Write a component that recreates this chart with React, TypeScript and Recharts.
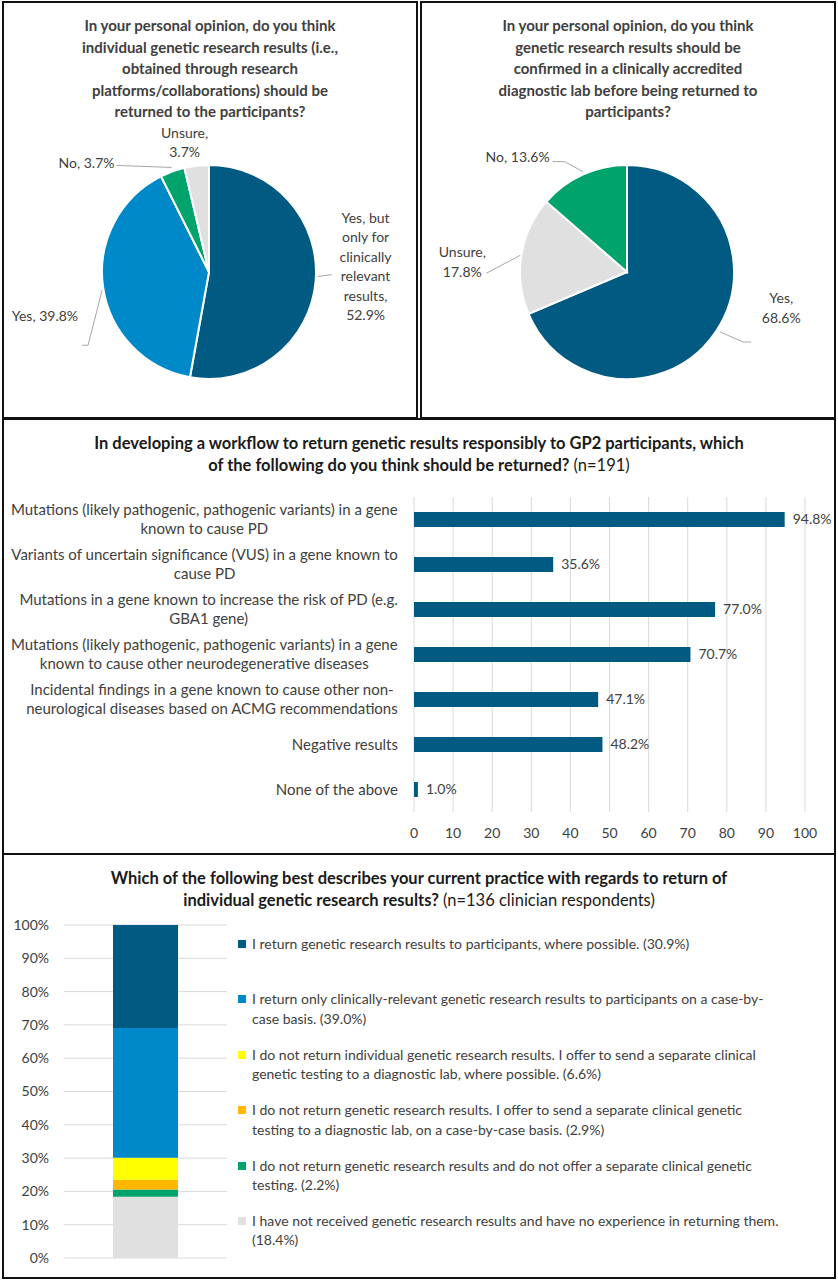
import React from "react";
import {
  PieChart,
  Pie,
  Cell,
  BarChart,
  Bar,
  XAxis,
  YAxis,
  CartesianGrid,
  LabelList,
} from "recharts";

const FONT = "Lato, 'Open Sans', sans-serif";
const TEXT = "#404040";
const DARK = "#005A82";
const BLUE = "#0089C8";
const GREEN = "#00A36C";
const GRAY = "#E0E0E0";
const YELLOW = "#FFFF00";
const ORANGE = "#FFB700";
const GRID = "#D9D9D9";

// --- panel 1: return individual results? ---
const opinionNames = ["Yes, but\nonly for\nclinically\nrelevant\nresults,", "Yes,", "No,", "Unsure,"];
const opinionValues = [52.9, 39.8, 3.7, 3.7];
const opinionValueBreak = [true, false, false, true];
const opinionColors = [DARK, BLUE, GREEN, GRAY];

// --- panel 2: confirm in accredited lab? ---
const confirmNames = ["Yes,", "Unsure,", "No,"];
const confirmValues = [68.6, 17.8, 13.6];
const confirmValueBreak = [true, true, false];
const confirmColors = [DARK, GRAY, GREEN];

// --- panel 3: what should be returned (n=191) ---
const returnCategories = [
  "Mutations (likely pathogenic, pathogenic variants) in a gene\nknown to cause PD",
  "Variants of uncertain significance (VUS) in a gene known to\ncause PD",
  "Mutations in a gene known to increase the risk of PD (e.g.\nGBA1 gene)",
  "Mutations (likely pathogenic, pathogenic variants) in a gene\nknown to cause other neurodegenerative diseases",
  "Incidental findings in a gene known to cause other non-\nneurological diseases based on ACMG recommendations",
  "Negative results",
  "None of the above",
];
const returnValues = [94.8, 35.6, 77.0, 70.7, 47.1, 48.2, 1.0];
const returnTicks = [0, 10, 20, 30, 40, 50, 60, 70, 80, 90, 100];

// --- panel 4: current practice (n=136), listed bottom of stack first ---
const practiceLabels = [
  "I have not received genetic research results and have no experience in returning them.\n",
  "I do not return genetic research results and do not offer a separate clinical genetic\ntesting.",
  "I do not return genetic research results. I offer to send a separate clinical genetic\ntesting to a diagnostic lab, on a case-by-case basis.",
  "I do not return individual genetic research results. I offer to send a separate clinical\ngenetic testing to a diagnostic lab, where possible.",
  "I return only clinically-relevant genetic research results to participants on a case-by-\ncase basis.",
  "I return genetic research results to participants, where possible.",
];
const practiceValues = [18.4, 2.2, 2.9, 6.6, 39.0, 30.9];
const practiceColors = [GRAY, GREEN, ORANGE, YELLOW, BLUE, DARK];
const practiceTicks = [0, 10, 20, 30, 40, 50, 60, 70, 80, 90, 100];

// label placement relative to the slice's outer edge point
type LabelLayout = { leader: [number, number][]; dx: number; dy: number; anchor: "start" | "middle" | "end" };

const opinionLayout: LabelLayout[] = [
  { leader: [[2, -5], [16, -7]], dx: 50, dy: -64, anchor: "middle" },
  { leader: [[-1, 3], [-15, 58], [-21, 58]], dx: -25, dy: 29, anchor: "end" },
  { leader: [[-1, -4], [-56, -6]], dx: -58, dy: -8, anchor: "end" },
  { leader: [], dx: -12, dy: -33, anchor: "middle" },
];

const confirmLayout: LabelLayout[] = [
  { leader: [[4, 1], [27, 11], [35, 11]], dx: 65, dy: -33, anchor: "middle" },
  { leader: [[-1, 0], [-35, 18]], dx: -59, dy: -3, anchor: "middle" },
  { leader: [[0, -3], [-18, -13], [-30, -13]], dx: -33, dy: -18, anchor: "end" },
];

const RADIAN = Math.PI / 180;
const pct = (v: number) => `${v.toFixed(1)}%`;

function sliceLines(name: string, value: number, breakLine: boolean): string[] {
  const lines = name.split("\n");
  if (breakLine) return [...lines, pct(value)];
  lines[lines.length - 1] = `${lines[lines.length - 1]} ${pct(value)}`;
  return lines;
}

function makePieLabel(layouts: LabelLayout[], names: string[], values: number[], breaks: boolean[]) {
  return (props: any) => {
    const { cx, cy, midAngle, outerRadius, index } = props;
    const a = -midAngle * RADIAN;
    const ex = cx + outerRadius * Math.cos(a);
    const ey = cy + outerRadius * Math.sin(a);
    const lay = layouts[index];
    const lines = sliceLines(names[index], values[index], breaks[index]);
    return (
      <g key={`lbl-${index}`}>
        {lay.leader.length > 1 && (
          <polyline
            points={lay.leader.map(([x, y]) => `${ex + x},${ey + y}`).join(" ")}
            fill="none"
            stroke="#A6A6A6"
            strokeWidth={1}
          />
        )}
        <text textAnchor={lay.anchor} fontFamily={FONT} fontSize={14} fill={TEXT}>
          {lines.map((l, i) => (
            <tspan key={i} x={ex + lay.dx} y={ey + lay.dy + i * 19.5 + 5}>
              {l}
            </tspan>
          ))}
        </text>
      </g>
    );
  };
}

let measureCtx: CanvasRenderingContext2D | null = null;
function textWidth(s: string, font: string): number {
  if (!measureCtx) measureCtx = document.createElement("canvas").getContext("2d");
  if (!measureCtx) return s.length * 6.8;
  measureCtx.font = font;
  return measureCtx.measureText(s).width;
}

const panelBase: React.CSSProperties = {
  position: "absolute",
  border: "2px solid #111",
  boxSizing: "border-box",
  background: "#fff",
  overflow: "hidden",
};

const titleStyle: React.CSSProperties = {
  position: "absolute",
  left: 0,
  right: 0,
  textAlign: "center",
  fontFamily: FONT,
  fontWeight: 700,
  fontSize: 15,
  lineHeight: "21.5px",
  whiteSpace: "nowrap",
};

function PiePanel({
  left,
  title,
  names,
  values,
  colors,
  breaks,
  layout,
}: {
  left: number;
  title: string[];
  names: string[];
  values: number[];
  colors: string[];
  breaks: boolean[];
  layout: LabelLayout[];
}) {
  const data = names.map((n, i) => ({ name: n, value: values[i] }));
  return (
    <div style={{ ...panelBase, left, top: 1, width: 416, height: 418 }}>
      <div style={{ ...titleStyle, top: 12, color: TEXT }}>
        {title.map((t, i) => (
          <div key={i}>{t}</div>
        ))}
      </div>
      <div style={{ position: "absolute", left: 0, top: 0 }}>
        <PieChart width={412} height={412} margin={{ top: 0, right: 0, bottom: 0, left: 0 }}>
          <Pie
            data={data}
            dataKey="value"
            cx={205}
            cy={269}
            outerRadius={107}
            startAngle={90}
            endAngle={-270}
            stroke="#fff"
            strokeWidth={2}
            isAnimationActive={false}
            labelLine={false}
            label={makePieLabel(layout, names, values, breaks)}
          >
            {data.map((_, i) => (
              <Cell key={i} fill={colors[i]} />
            ))}
          </Pie>
        </PieChart>
      </div>
    </div>
  );
}

const CAT_FONT = `15px ${FONT}`;

function CategoryTick(props: any) {
  const { y, payload } = props;
  const lines: string[] = String(payload.value).split("\n");
  const right = 394;
  const blockW = Math.max(...lines.map((l) => textWidth(l, CAT_FONT)));
  const cx = right - blockW / 2;
  const top = y - ((lines.length - 1) * 19) / 2;
  return (
    <text textAnchor="middle" fontFamily={FONT} fontSize={15} fill={TEXT}>
      {lines.map((l, i) => (
        <tspan key={i} x={cx} y={top + i * 19 + 5}>
          {l}
        </tspan>
      ))}
    </text>
  );
}

const bigTitle: React.CSSProperties = { ...titleStyle, top: 12, fontSize: 16.5, lineHeight: "22px", color: "#1a1a1a" };

function ReturnPanel() {
  const data = returnCategories.map((c, i) => ({ category: c, value: returnValues[i] }));
  return (
    <div style={{ ...panelBase, left: 2, top: 418, width: 834, height: 437 }}>
      <div style={bigTitle}>
        <div>In developing a workflow to return genetic results responsibly to GP2 participants, which</div>
        <div>
          of the following do you think should be returned?<span style={{ fontWeight: 400 }}> (n=191)</span>
        </div>
      </div>
      <div style={{ position: "absolute", left: 0, top: 0 }}>
        <BarChart
          width={830}
          height={430}
          data={data}
          layout="vertical"
          margin={{ top: 77, right: 29, left: 10, bottom: 8 }}
          barSize={15}
        >
          <CartesianGrid horizontal={false} stroke={GRID} />
          <XAxis
            type="number"
            domain={[0, 100]}
            ticks={returnTicks}
            axisLine={false}
            tickLine={false}
            tickMargin={10}
            height={30}
            tick={{ fontSize: 14, fill: TEXT, fontFamily: FONT }}
          />
          <YAxis
            type="category"
            dataKey="category"
            width={400}
            axisLine={false}
            tickLine={false}
            interval={0}
            tick={<CategoryTick />}
          />
          <Bar dataKey="value" fill={DARK} isAnimationActive={false}>
            <LabelList
              dataKey="value"
              position="right"
              offset={8}
              formatter={(v: any) => pct(Number(v))}
              style={{ fontSize: 14, fill: TEXT, fontFamily: FONT }}
            />
          </Bar>
        </BarChart>
      </div>
    </div>
  );
}

function PracticeLegend() {
  // top of legend = top of stack
  const order = practiceLabels.map((_, i) => i).reverse();
  return (
    <div style={{ position: "absolute", left: 234, top: 79, width: 594, fontFamily: FONT, fontSize: 14, color: TEXT }}>
      {order.map((i) => {
        const lines = practiceLabels[i].split("\n");
        const last = lines.length - 1;
        lines[last] = lines[last] ? `${lines[last]} (${pct(practiceValues[i])})` : `(${pct(practiceValues[i])})`;
        return (
          <div key={i} style={{ display: "flex", height: 55.4, alignItems: "flex-start" }}>
            <div style={{ width: 8, height: 8, marginTop: 6, background: practiceColors[i], flex: "none" }} />
            <div style={{ marginLeft: 6, lineHeight: "19.5px", whiteSpace: "nowrap" }}>
              {lines.map((l, k) => (
                <div key={k}>{l}</div>
              ))}
            </div>
          </div>
        );
      })}
    </div>
  );
}

function PracticePanel() {
  const row: Record<string, number | string> = { name: "practice" };
  practiceValues.forEach((v, i) => {
    row[`s${i}`] = v;
  });
  return (
    <div style={{ ...panelBase, left: 2, top: 853, width: 834, height: 426 }}>
      <div style={bigTitle}>
        <div>Which of the following best describes your current practice with regards to return of</div>
        <div>
          individual genetic research results?
          <span style={{ fontWeight: 400 }}> (n=136 clinician respondents)</span>
        </div>
      </div>
      <div style={{ position: "absolute", left: 0, top: 0 }}>
        <BarChart width={240} height={420} data={[row]} margin={{ top: 70, right: 17, left: 0, bottom: 17 }} barSize={65}>
          <CartesianGrid vertical={false} stroke={GRID} />
          <XAxis dataKey="name" hide />
          <YAxis
            domain={[0, 100]}
            ticks={practiceTicks}
            width={60}
            axisLine={false}
            tickLine={false}
            tickMargin={9}
            tickFormatter={(v) => `${v}%`}
            tick={{ fontSize: 14, fill: TEXT, fontFamily: FONT }}
          />
          {practiceValues.map((_, i) => (
            <Bar key={i} dataKey={`s${i}`} stackId="p" fill={practiceColors[i]} isAnimationActive={false} />
          ))}
        </BarChart>
      </div>
      <PracticeLegend />
    </div>
  );
}

export default function App() {
  return (
    <div style={{ position: "absolute", left: 0, top: 0, width: 838, height: 1280, background: "#fff", overflow: "hidden" }}>
      <PiePanel
        left={2}
        title={[
          "In your personal opinion, do you think",
          "individual genetic research results (i.e.,",
          "obtained through research",
          "platforms/collaborations) should be",
          "returned to the participants?",
        ]}
        names={opinionNames}
        values={opinionValues}
        colors={opinionColors}
        breaks={opinionValueBreak}
        layout={opinionLayout}
      />
      <PiePanel
        left={420}
        title={[
          "In your personal opinion, do you think",
          "genetic research results should be",
          "confirmed in a clinically accredited",
          "diagnostic lab before being returned to",
          "participants?",
        ]}
        names={confirmNames}
        values={confirmValues}
        colors={confirmColors}
        breaks={confirmValueBreak}
        layout={confirmLayout}
      />
      <ReturnPanel />
      <PracticePanel />
    </div>
  );
}
